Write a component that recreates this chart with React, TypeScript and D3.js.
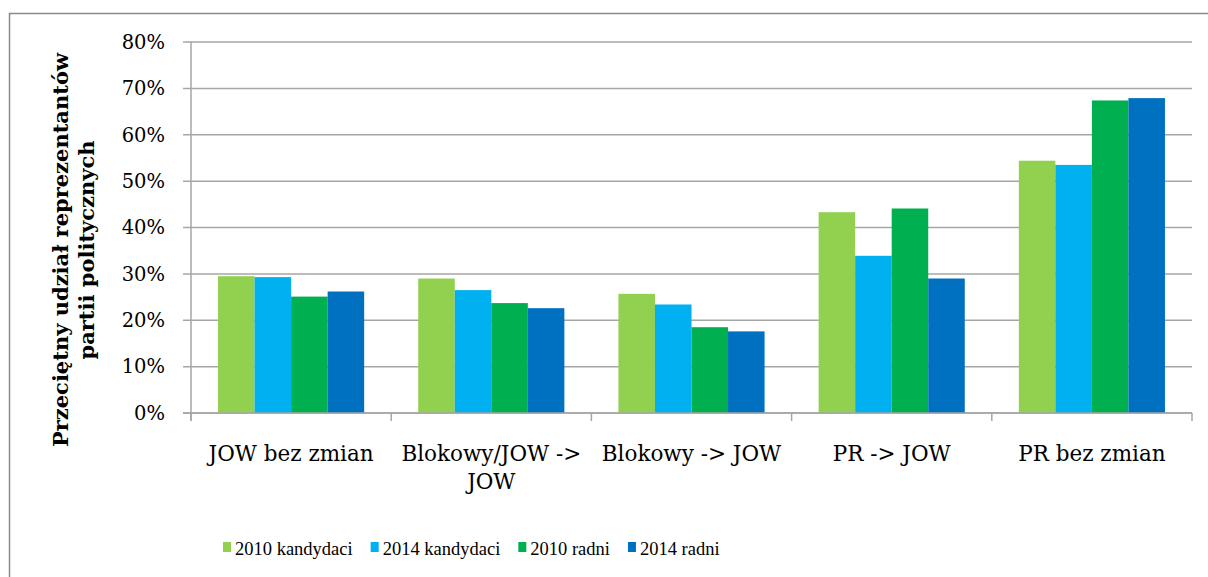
import React, { useEffect, useRef } from "react";
import * as d3 from "d3";

// categories (x axis) and series
const categories = [
  "JOW bez zmian",
  "Blokowy/JOW -> JOW",
  "Blokowy -> JOW",
  "PR -> JOW",
  "PR bez zmian",
];
const seriesNames = ["2010 kandydaci", "2014 kandydaci", "2010 radni", "2014 radni"];
const seriesColors = ["#92D050", "#00B0F0", "#00B050", "#0070C0"];

const kandydaci2010 = [29.5, 29.0, 25.7, 43.3, 54.4];
const kandydaci2014 = [29.3, 26.5, 23.4, 33.9, 53.5];
const radni2010 = [25.1, 23.7, 18.5, 44.1, 67.4];
const radni2014 = [26.2, 22.6, 17.6, 29.0, 67.9];

const yTicks = [0, 10, 20, 30, 40, 50, 60, 70, 80];
const yTitle = ["Przeciętny udział reprezentantów", "partii politycznych"];

const W = 1208;
const H = 577;
const FONT = "'DejaVu Serif', serif";
const LEGEND_FONT = "'Liberation Serif', serif";

export default function App() {
  const ref = useRef<SVGSVGElement>(null);

  useEffect(() => {
    const svg = d3.select(ref.current);
    svg.selectAll("*").remove();

    const margin = { top: 42, right: 16, bottom: 164, left: 191 };
    const width = W - margin.left - margin.right;
    const height = H - margin.top - margin.bottom;

    const values = [kandydaci2010, kandydaci2014, radni2010, radni2014];
    const data = categories.map((c, i) => ({
      cat: c,
      vals: values.map((s, k) => ({ key: seriesNames[k], v: s[i] })),
    }));

    // outer frame
    svg.append("rect")
      .attr("x", 9.5).attr("y", 13.5)
      .attr("width", W).attr("height", H)
      .attr("fill", "#fff")
      .attr("stroke", "#8a8a8a")
      .attr("stroke-width", 1.5);

    const g = svg.append("g").attr("transform", `translate(${margin.left},${margin.top})`);

    const x0 = d3.scaleBand().domain(categories).range([0, width]).paddingInner(0).paddingOuter(0);
    const x1 = d3.scaleBand().domain(seriesNames).range([0, x0.bandwidth()]).paddingInner(0).paddingOuter(0.74);
    const y = d3.scaleLinear().domain([0, 80]).range([height, 0]);

    // GRID
    g.append("g")
      .selectAll("line")
      .data(yTicks)
      .enter()
      .append("line")
      .attr("x1", -8)
      .attr("x2", width)
      .attr("y1", d => y(d))
      .attr("y2", d => y(d))
      .attr("stroke", "#a6a6a6")
      .attr("stroke-width", 1.5);

    // y tick labels
    g.append("g")
      .selectAll("text")
      .data(yTicks)
      .enter()
      .append("text")
      .attr("x", -26)
      .attr("y", d => y(d))
      .attr("dy", "0.35em")
      .attr("text-anchor", "end")
      .attr("font-family", FONT)
      .attr("font-size", 19.5)
      .attr("fill", "#000")
      .text(d => `${d}%`);

    // BARS
    const groups = g.selectAll("g.grp")
      .data(data)
      .enter()
      .append("g")
      .attr("class", "grp")
      .attr("transform", d => `translate(${x0(d.cat)},0)`);

    groups.selectAll("rect")
      .data(d => d.vals)
      .enter()
      .append("rect")
      .attr("x", d => x1(d.key)!)
      .attr("width", x1.bandwidth())
      .attr("y", d => y(d.v))
      .attr("height", d => height - y(d.v))
      .attr("fill", (d, i) => seriesColors[i]);

    // axes lines
    g.append("line")
      .attr("x1", 0).attr("x2", 0)
      .attr("y1", 0).attr("y2", height + 8)
      .attr("stroke", "#a6a6a6").attr("stroke-width", 1.5);
    g.append("line")
      .attr("x1", -8).attr("x2", width)
      .attr("y1", height).attr("y2", height)
      .attr("stroke", "#a6a6a6").attr("stroke-width", 1.5);

    const bounds = categories.map(c => x0(c)!).concat([width]);
    g.append("g")
      .selectAll("line")
      .data(bounds)
      .enter()
      .append("line")
      .attr("x1", d => d).attr("x2", d => d)
      .attr("y1", height).attr("y2", height + 8)
      .attr("stroke", "#a6a6a6").attr("stroke-width", 1.5);

    // category labels (wrapped)
    const maxW = x0.bandwidth() - 8;
    const catText = g.append("g")
      .selectAll("text")
      .data(categories)
      .enter()
      .append("text")
      .attr("text-anchor", "middle")
      .attr("font-family", FONT)
      .attr("font-size", 21.5)
      .attr("fill", "#000")
      .attr("transform", d => `translate(${x0(d)! + x0.bandwidth() / 2},${height + 48})`);

    catText.each(function (d) {
      const t = d3.select(this);
      const words = d.split(" ");
      let line: string[] = [];
      let lineNo = 0;
      let tspan = t.append("tspan").attr("x", 0).attr("y", 0);
      words.forEach(w => {
        line.push(w);
        tspan.text(line.join(" "));
        if ((tspan.node() as SVGTSpanElement).getComputedTextLength() > maxW && line.length > 1) {
          line.pop();
          tspan.text(line.join(" "));
          line = [w];
          lineNo++;
          tspan = t.append("tspan").attr("x", 0).attr("y", lineNo * 28).text(w);
        }
      });
    });

    // Y title
    yTitle.forEach((s, i) => {
      svg.append("text")
        .attr("transform", `translate(${68 + i * 26},${250}) rotate(-90)`)
        .attr("text-anchor", "middle")
        .attr("font-family", FONT)
        .attr("font-size", 21)
        .attr("font-weight", "bold")
        .attr("fill", "#000")
        .text(s);
    });

    // LEGEND
    const legend = svg.append("g").attr("transform", `translate(223,555)`);
    let lx = 0;
    seriesNames.forEach((s, i) => {
      legend.append("rect")
        .attr("x", lx).attr("y", -13)
        .attr("width", 8).attr("height", 10)
        .attr("fill", seriesColors[i]);
      const t = legend.append("text")
        .attr("x", lx + 12)
        .attr("y", 0)
        .attr("font-family", LEGEND_FONT)
        .attr("font-size", 18.5)
        .attr("fill", "#000")
        .text(s);
      const len = (t.node() as SVGTextElement).getComputedTextLength();
      lx += 12 + len + 18;
    });
  }, []);

  return (
    <div style={{ position: "absolute", left: 0, top: 0 }}>
      <svg ref={ref} width={W} height={H} style={{ display: "block" }} />
    </div>
  );
}
